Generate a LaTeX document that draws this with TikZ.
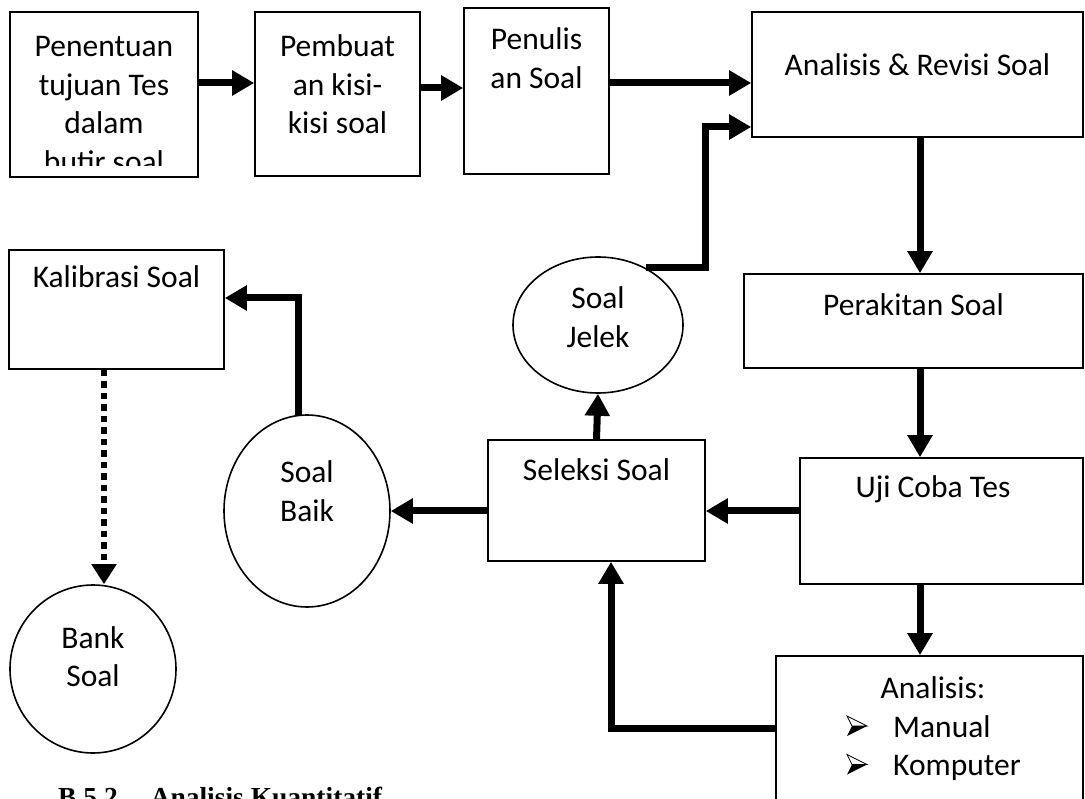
\documentclass[tikz,border=0pt]{standalone}
\usepackage{fontspec}
\setmainfont{Carlito}
\newfontfamily\capfont{Liberation Serif}
\usetikzlibrary{arrows.meta,shapes.geometric,calc}
\tikzset{
  box/.style={draw, line width=1.6pt, inner sep=0pt},
  oval/.style={draw, ellipse, line width=1.6pt, inner sep=0pt},
  txt/.style={font=\fontsize{31.5}{38.5}\selectfont, align=center, inner sep=0pt, anchor=base},
  arr/.style={line width=7pt, -{Triangle[length=22pt,width=24pt]}},
  dotarr/.style={line width=6.5pt, dash pattern=on 6.5pt off 5pt, -{Triangle[length=20pt,width=24pt]}},
  wbullet/.pic={
    \path[draw, line width=0.8pt, fill=white] (-10,-10) -- (10,0) -- (-5,0) -- cycle;
    \path[fill=black] (-5,0) -- (10,0) -- (-10,10) -- cycle;
  }
}
\begin{document}
\begin{tikzpicture}[x=1pt,y=-1pt]
\useasboundingbox (0,0) rectangle (1085,799);
\fill[white] (0,0) rectangle (1085,799);
\clip (0,0) rectangle (1085,799);

% boxes
\node[box, minimum width=188pt, minimum height=165pt] (B1) at (104,94.5) {};
\node[box, minimum width=165pt, minimum height=164pt] (B2) at (337.5,94) {};
\node[box, minimum width=145pt, minimum height=166pt] (B3) at (536.5,91) {};
\node[box, minimum width=331pt, minimum height=125pt] (B4) at (917.5,74.5) {};
\node[box, minimum width=339pt, minimum height=94pt] (PK) at (913.5,321) {};
\node[box, minimum width=283pt, minimum height=126pt] (UC) at (941.5,521) {};
\node[box, minimum width=307pt, minimum height=174pt] (AN) at (929.5,743) {};
\node[box, minimum width=217pt, minimum height=121pt] (SS) at (596.5,500.5) {};
\node[box, minimum width=215pt, minimum height=119pt] (KS) at (116.5,309.5) {};
\node[oval, minimum width=170pt, minimum height=136pt] (SJ) at (598,325) {};
\node[oval, minimum width=166pt, minimum height=192pt] (SB) at (307,511) {};
\node[oval, minimum width=166pt, minimum height=168pt] (BS) at (93,669) {};

% texts (base anchor = last line's baseline)
\begin{scope}
\clip (10,12) rectangle (198,166);
\node[txt] (tB1) at (104,172.5) {Penentuan\\tujuan Tes\\dalam\\butir soal};
\end{scope}
\node[txt] (tB2) at (337.5,134) {Pembuat\\an kisi-\\kisi soal};
\node[txt] (tB3) at (536.5,88.5) {Penulis\\an Soal};
\node[txt] (tB4) at (917.5,76) {Analisis \& Revisi Soal};
\node[txt] (tPK) at (913.5,316) {Perakitan Soal};
\node[txt] (tUC) at (933,498) {Uji Coba Tes};
\node[txt] (tSS) at (596.5,481) {Seleksi Soal};
\node[txt] (tKS) at (116.5,288) {Kalibrasi Soal};
\node[txt] (tSJ) at (598,347.5) {Soal\\Jelek};
\node[txt] (tSB) at (307,521.5) {Soal\\Baik};
\node[txt] (tBS) at (93,686.5) {Bank\\Soal};
\node[txt] (tAN) at (933,698) {Analisis:};
\node[txt, anchor=base west] (tM) at (893,737) {Manual};
\node[txt, anchor=base west] (tK) at (893,775.5) {Komputer};
\pic at (857,726) {wbullet};
\pic at (857,764.5) {wbullet};

% caption
\node[font=\capfont\bfseries\fontsize{27.5}{30}\selectfont, anchor=base west, inner sep=0pt] (cap) at (58,806) {B.5.2.\hspace{26pt}Analisis Kuantitatif};

% connectors
\draw[arr] (B1.east |- 0,83) -- (B2.west |- 0,83);
\draw[arr] (B2.east |- 0,88) -- (B3.west |- 0,88);
\draw[arr] (B3.east |- 0,83) -- (B4.west |- 0,83);
\coordinate (bendJ) at (705,127);
\draw[arr] (SJ.50) -| (bendJ) -- (B4.west |- bendJ);
\draw[arr] (B4.south -| 920,0) -- (PK.north -| 920,0);
\draw[arr] (PK.south -| 920,0) -- (UC.north -| 920,0);
\draw[arr] (UC.south -| 920,0) -- (AN.north -| 920,0);
\draw[arr] (UC.west |- 0,511) -- (SS.east |- 0,511);
\draw[arr] (SS.west |- 0,511) -- (SB.east);
\draw[arr] (SS.north) -- (SJ.south);
\draw[arr] (SB.95) |- (KS.east |- 0,298);
\draw[dotarr] (KS.south -| 104,0) -- (BS.north -| 104,0);
\draw[arr] (AN.west |- 0,728) -| (SS.south -| 611,0);
\end{tikzpicture}
\end{document}
